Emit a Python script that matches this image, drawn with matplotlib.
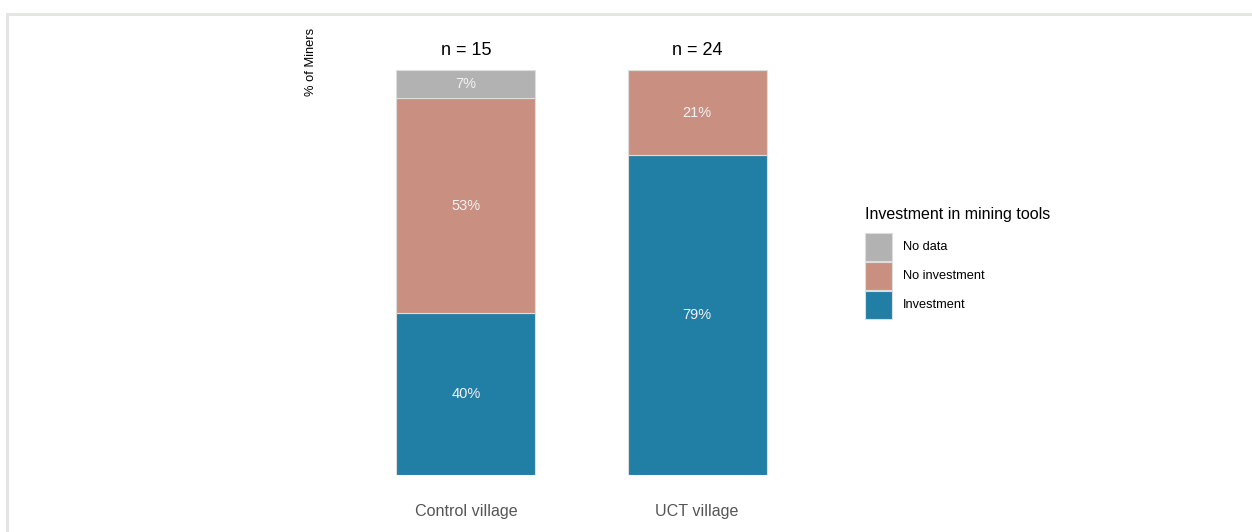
import numpy as np
import matplotlib
matplotlib.use('Agg')
import matplotlib.pyplot as plt
from matplotlib.patches import Rectangle

# data
villages = ['Control village', 'UCT village']
n_miners = [15, 24]
categories = ['Investment', 'No investment', 'No data']
pct_investment = [40, 79]
pct_no_investment = [53, 21]
pct_no_data = [7, 0]
legend_order = ['No data', 'No investment', 'Investment']

colors = {'Investment': '#217EA5', 'No investment': '#C99082', 'No data': '#B2B2B2'}
font = ['Liberation Sans', 'DejaVu Sans']

W, H = 1252, 532
fig = plt.figure(figsize=(W / 100, H / 100), dpi=100)


def px(x, y):
    # pixel position (from top left) to figure coords
    return x / W, 1 - y / H


# light frame around the plot area
fig.patches.append(Rectangle((7 / W, -0.1), 1.2, 1 - 14 / H + 0.1, transform=fig.transFigure,
                             fill=False, edgecolor='#E3E6E3', linewidth=2.2))

# axes: x from 327 to 836 px, y from 70 to 475 px
ax = fig.add_axes([327 / W, 1 - 475 / H, (836 - 327) / W, (475 - 70) / H])
x = np.arange(len(villages))
series = [pct_investment, pct_no_investment, pct_no_data]
bottom = np.zeros(len(villages))
for cat, vals in zip(categories, series):
    vals = np.array(vals, dtype=float)
    ax.bar(x, vals, bottom=bottom, width=0.6, color=colors[cat],
           edgecolor='#DDDDDD', linewidth=0.8)
    for xi, b, v in zip(x, bottom, vals):
        if v > 0:
            ax.text(xi, b + v / 2, f'{v:.0f}%', ha='center', va='center',
                    color='#F2F2F2', fontsize=10.5, family=font)
    bottom += vals

for xi, n in zip(x, n_miners):
    ax.annotate(f'n = {n}', (xi, 100), xytext=(0, 14), textcoords='offset points',
                ha='center', va='center', fontsize=13, family=font, color='black')

ax.set_xlim(-0.6, 1.6)
ax.set_ylim(0, 100)
ax.set_xticks(x)
ax.set_xticklabels(villages, fontsize=11.6, color='#555555', family=font)
ax.tick_params(axis='x', length=0, pad=21)
ax.set_yticks([])
for s in ax.spines.values():
    s.set_visible(False)

fig.text(*px(311, 28), '% of Miners', rotation=90, ha='center', va='top',
         fontsize=9.3, family=font)

# legend, drawn by hand to match key size
fig.text(*px(865, 215), 'Investment in mining tools', ha='left', va='center',
         fontsize=11.5, family=font)
key_top = 233
for i, cat in enumerate(legend_order):
    y0 = key_top + i * 29
    fig.patches.append(Rectangle(px(865, y0 + 28), 27 / W, 28 / H, transform=fig.transFigure,
                                 facecolor=colors[cat], edgecolor='#DDDDDD', linewidth=0.8))
    fig.text(*px(903, y0 + 14), cat, ha='left', va='center', fontsize=9.2, family=font)

fig.savefig('out.png', dpi=100)
